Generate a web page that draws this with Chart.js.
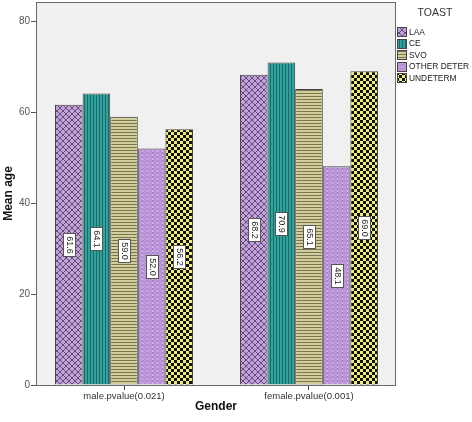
<!DOCTYPE html>
<html>
<head>
<meta charset="utf-8">
<script src="https://cdn.jsdelivr.net/npm/chart.js@4.4.1/dist/chart.umd.min.js"></script>
<style>
html,body{margin:0;padding:0;background:#fff;}
canvas{display:block;}
</style>
</head>
<body>
<canvas id="c" width="472" height="422"></canvas>
<script>
const categories = ['male.pvalue(0.021)', 'female.pvalue(0.001)'];
const seriesNames = ['LAA', 'CE', 'SVO', 'OTHER DETER', 'UNDETERM'];
const LAA = [61.6, 68.2];
const CE = [64.1, 70.9];
const SVO = [59.0, 65.1];
const OTHER_DETER = [52.0, 48.1];
const UNDETERM = [56.2, 69.0];
const yTicks = [0, 20, 40, 60, 80];
const legendTitle = 'TOAST';
const xTitle = 'Gender';
const yTitle = 'Mean age';

const seriesValues = [LAA, CE, SVO, OTHER_DETER, UNDETERM];
const FONT = "'Liberation Sans', Arial, sans-serif";

function makePattern(k) {
  const c = document.createElement('canvas');
  const g = c.getContext('2d');
  if (k === 0) {
    c.width = 6; c.height = 6;
    g.fillStyle = '#c3a2da'; g.fillRect(0, 0, 6, 6);
    g.strokeStyle = '#654b7a'; g.lineWidth = 1;
    g.beginPath(); g.moveTo(0, 0); g.lineTo(6, 6); g.moveTo(6, 0); g.lineTo(0, 6); g.stroke();
  } else if (k === 1) {
    c.width = 3; c.height = 1;
    g.fillStyle = '#2ea29e'; g.fillRect(0, 0, 3, 1);
    g.fillStyle = '#1f6a67'; g.fillRect(0, 0, 1, 1);
  } else if (k === 2) {
    c.width = 1; c.height = 3;
    g.fillStyle = '#d2ce9c'; g.fillRect(0, 0, 1, 3);
    g.fillStyle = '#7a7650'; g.fillRect(0, 0, 1, 1);
  } else if (k === 3) {
    c.width = 5; c.height = 4;
    g.fillStyle = '#ba96d8'; g.fillRect(0, 0, 5, 4);
    g.fillStyle = '#a27fc2'; g.fillRect(2, 0, 1, 2);
    g.fillStyle = '#d3bde6'; g.fillRect(2, 2, 1, 2);
  } else {
    c.width = 6; c.height = 6;
    g.fillStyle = '#f0ec78'; g.fillRect(0, 0, 6, 6);
    g.fillStyle = '#111'; g.fillRect(0, 0, 3, 3); g.fillRect(3, 3, 3, 3);
  }
  return g.createPattern(c, 'repeat');
}

const ctx = document.getElementById('c').getContext('2d');
const patterns = seriesNames.map((n, k) => makePattern(k));

const datasets = seriesNames.map((name, k) => ({
  label: name,
  data: seriesValues[k].map((v, i) => ({ x: i, y: v })),
  backgroundColor: patterns[k],
  borderColor: '#444',
  borderWidth: 1,
  borderSkipped: 'bottom',
  categoryPercentage: 0.746,
  barPercentage: 1
}));

const framePlugin = {
  id: 'frame',
  beforeDraw(chart) {
    const g = chart.ctx, a = chart.chartArea;
    g.save();
    g.fillStyle = '#fff'; g.fillRect(0, 0, chart.width, chart.height);
    g.fillStyle = '#f0f0f0'; g.fillRect(a.left, a.top, a.right - a.left, a.bottom - a.top);
    g.restore();
  },
  afterDatasetsDraw(chart) {
    const g = chart.ctx, a = chart.chartArea;
    g.save();
    chart.data.datasets.forEach((ds, k) => {
      const meta = chart.getDatasetMeta(k);
      meta.data.forEach((el, i) => {
        const v = seriesValues[k][i];
        const cx = el.x, cy = (el.y + el.base) / 2;
        const w = 12, h = 23;
        const bx = Math.round(cx - w / 2) + 0.5, by = Math.round(cy - h / 2) + 0.5;
        g.fillStyle = '#fff';
        g.fillRect(bx, by, w, h);
        g.strokeStyle = '#555'; g.lineWidth = 1;
        g.strokeRect(bx, by, w, h);
        g.save();
        g.translate(bx + w / 2, by + h / 2);
        g.rotate(Math.PI / 2);
        g.fillStyle = '#222';
        g.font = '9px ' + FONT;
        g.textAlign = 'center'; g.textBaseline = 'middle';
        g.fillText(v.toFixed(1), 0, 0.5);
        g.restore();
      });
    });
    g.strokeStyle = '#6a6a6a'; g.lineWidth = 1;
    g.strokeRect(a.left - 0.5, a.top + 0.5, a.right - a.left + 1, a.bottom - a.top);
    g.restore();
  },
  afterDraw(chart) {
    const g = chart.ctx;
    g.save();
    g.fillStyle = '#333';
    g.font = '10.5px ' + FONT;
    g.textAlign = 'center'; g.textBaseline = 'middle';
    g.fillText(legendTitle, 435, 13);
    g.font = '8.4px ' + FONT;
    g.textAlign = 'left';
    seriesNames.forEach((name, k) => {
      const cy = 32 + 11.5 * k;
      g.fillStyle = patterns[k];
      g.fillRect(397, Math.round(cy - 5), 10, 10);
      g.strokeStyle = '#444';
      g.strokeRect(397.5, Math.round(cy - 5) + 0.5, 9, 9);
      g.fillStyle = '#222';
      g.fillText(name, 409, cy + 0.5);
    });
    g.restore();
  }
};

function zeroPad(s) { s.paddingTop = 0; s.paddingBottom = 0; s.paddingLeft = 0; s.paddingRight = 0; }

new Chart(ctx, {
  type: 'bar',
  data: { datasets },
  options: {
    responsive: false,
    animation: false,
    devicePixelRatio: 1,
    layout: { padding: { top: 2, right: 77, left: 0, bottom: 0 } },
    plugins: { legend: { display: false }, tooltip: { enabled: false } },
    scales: {
      x: {
        type: 'linear',
        offset: false,
        min: -0.4703,
        max: 1.4649,
        afterBuildTicks(s) { s.ticks = categories.map((c, i) => ({ value: i })); },
        afterFit(s) { s.height = 37; zeroPad(s); },
        border: { display: false },
        grid: { offset: false, drawOnChartArea: false, drawTicks: true, tickLength: 5, color: '#444', tickColor: '#444' },
        ticks: {
          autoSkip: false, maxRotation: 0, padding: 1,
          color: '#333', font: { family: FONT, size: 9.5 },
          callback: (v) => categories[v] ?? ''
        },
        title: { display: true, text: xTitle, color: '#111', font: { family: FONT, size: 12, weight: 'bold' }, padding: { top: 0, bottom: 8 } }
      },
      y: {
        min: 0,
        max: 84.2,
        afterBuildTicks(s) { s.ticks = yTicks.map(v => ({ value: v })); },
        afterFit(s) { s.width = 37; zeroPad(s); },
        border: { display: false },
        grid: { drawOnChartArea: false, drawTicks: true, tickLength: 6, color: '#555', tickColor: '#555' },
        ticks: { padding: 1, color: '#555', font: { family: FONT, size: 10 } },
        title: { display: true, text: yTitle, color: '#111', font: { family: FONT, size: 12, weight: 'bold' }, padding: { top: 1, bottom: 0 } }
      }
    }
  },
  plugins: [framePlugin]
});
</script>
</body>
</html>
